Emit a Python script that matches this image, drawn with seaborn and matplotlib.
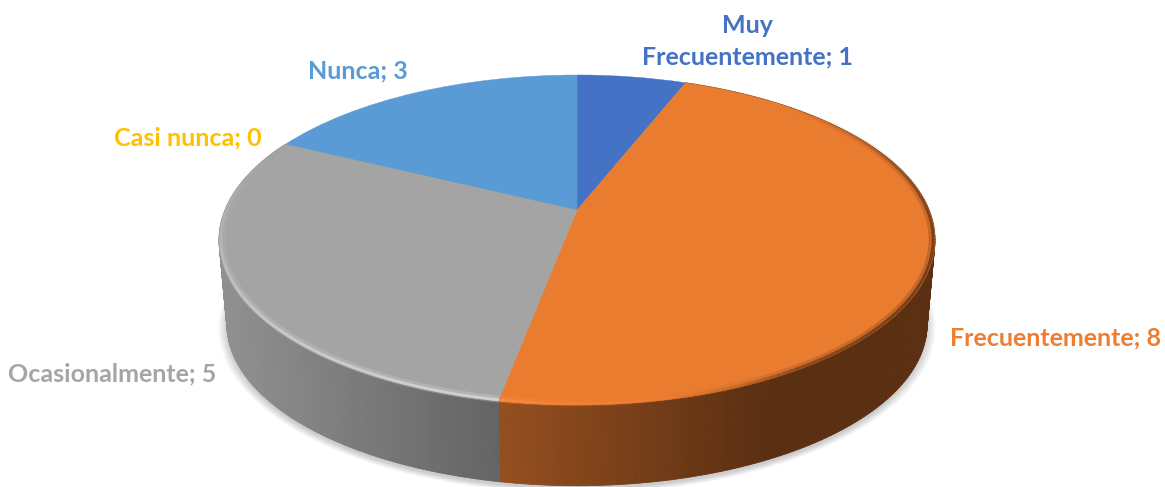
"""3D style pie chart of answer frequencies, drawn from a flat ax.pie."""

import numpy as np
import matplotlib
matplotlib.use("Agg")
import matplotlib.pyplot as plt
from matplotlib.collections import LineCollection, PolyCollection
from matplotlib.transforms import Transform
import seaborn as sns

categories = ["Muy Frecuentemente", "Frecuentemente", "Ocasionalmente", "Casi nunca", "Nunca"]
values = [1, 8, 5, 0, 3]
colors = ["#4472C4", "#EA7C30", "#A4A4A4", "#FFC000", "#5B9BD5"]
label_colors = ["#4472C4", "#ED7D31", "#A5A5A5", "#FFC000", "#5B9BD5"]
label_centers = [(747, 41.5), (1055, 338), (112, 374), (188, 138), (358, 71)]


class TiltTransform(Transform):
	""" Takes the flat unit pie to pixel coords, as seen in perspective. """
	input_dims = 2
	output_dims = 2

	def __init__(self, drop=0.0, shrink=1.0):
		super().__init__()
		self.drop = drop
		self.shrink = shrink

	def transform_non_affine(self, values):
		xy = np.asarray(values, dtype=float)
		w = 1 + 0.1818 * xy[:, 1]
		px = 577 + self.shrink * 352 * xy[:, 0] / w
		py = 210 + self.drop - self.shrink * 159.55 * xy[:, 1] / w
		return np.column_stack([px, py])


def circlePoints(theta1, theta2, steps, radius=1.0):
	angles = np.radians(np.linspace(theta1, theta2, steps))
	return np.column_stack([radius * np.cos(angles), radius * np.sin(angles)])


def drawWall(ax, wedge, left_x, right_x, left_color, right_color):
	""" Side of one slice, shaded from left to right on the screen. """
	steps = 160
	ring = circlePoints(wedge.theta1, wedge.theta2, steps)
	upper = TiltTransform().transform(ring)
	lower = TiltTransform(drop=DEPTH, shrink=SHRINK).transform(ring)
	shades = sns.blend_palette([left_color, right_color], 64)
	quads, faces = [], []
	for i in range(steps - 1):
		quads.append([upper[i], upper[i + 1], lower[i + 1], lower[i]])
		pos = (upper[i, 0] - left_x) / (right_x - left_x)
		faces.append(shades[int(np.clip(pos, 0, 1) * 63)])
	ax.add_collection(PolyCollection(quads, facecolors=faces, edgecolors=faces,
		linewidths=0.6, zorder=2))


def drawRim(ax, wedge, rim_colors, rim_alpha):
	""" Soft bevel along the outer edge of a slice. """
	steps = 160
	shades = sns.blend_palette(rim_colors, steps)
	fades = np.interp(np.linspace(0, 1, steps), np.linspace(0, 1, len(rim_alpha)), rim_alpha)
	for radius, width, strength in [(0.992, 5.0, 0.3), (0.995, 2.0, 0.85)]:
		ring = TiltTransform().transform(circlePoints(wedge.theta1, wedge.theta2, steps + 1, radius))
		segments = np.stack([ring[:-1], ring[1:]], axis=1)
		faces = [(*shades[i], fades[i] * strength) for i in range(steps)]
		ax.add_collection(LineCollection(segments, colors=faces, linewidths=width,
			capstyle="butt", zorder=4))


DEPTH = 85
SHRINK = 0.978

sns.set_theme(style="white")
plt.rcParams["font.family"] = ["Lato", "DejaVu Sans"]

fig = plt.figure(figsize=(11.65, 4.87), dpi=100)
ax = fig.add_axes([0, 0, 1, 1])
wedges, _ = ax.pie(values, colors=colors, startangle=90, counterclock=False,
	wedgeprops={"linewidth": 0})
ax.set_aspect("auto")
ax.set_xlim(0, 1165)
ax.set_ylim(487, 0)
ax.axis("off")

for wedge, color in zip(wedges, colors):
	wedge.set_transform(TiltTransform() + ax.transData)
	wedge.set_edgecolor(color)
	wedge.set_linewidth(0.3)
	wedge.set_zorder(3)

# drop shadow under the disc, many faint layers so that it looks blurred
outline = circlePoints(0, 360, 240)
for grow in np.linspace(0.0, 0.024, 10):
	layer = TiltTransform(drop=DEPTH + 3, shrink=SHRINK + grow).transform(outline)
	ax.fill(layer[:, 0], layer[:, 1], color="black", alpha=0.018, linewidth=0, zorder=1)

drawWall(ax, wedges[1], 498, 760, "#944F20", "#5B2F12")
drawWall(ax, wedges[2], 222, 498, "#909090", "#636363")

# theta grows counter clockwise: orange starts at the bottom, gray at the upper left
drawRim(ax, wedges[1],
	["#FF8C40", "#F08034", "#6A3816", "#5B2F12", "#5B2F12", "#5B2F12", "#5B2F12", "#5B2F12", "#5B2F12"],
	[0.9, 0.3, 0.75, 0.85, 0.9, 0.7, 0.3, 0.0, 0.0])
drawRim(ax, wedges[2], ["#B0B0B0", "#C0C0C0", "#D0D0D0", "#D8D8D8"],
	[0.0, 0.5, 0.9, 1.0, 1.0])

for cat, val, color, center in zip(categories, values, label_colors, label_centers):
	text = "{0}; {1}".format(cat, val).replace("Muy ", "Muy\n")
	ax.text(center[0], center[1], text, color=color, fontsize=18, fontweight="bold",
		ha="center", va="center", linespacing=1.44, zorder=5)

fig.savefig("out.png", dpi=100)
